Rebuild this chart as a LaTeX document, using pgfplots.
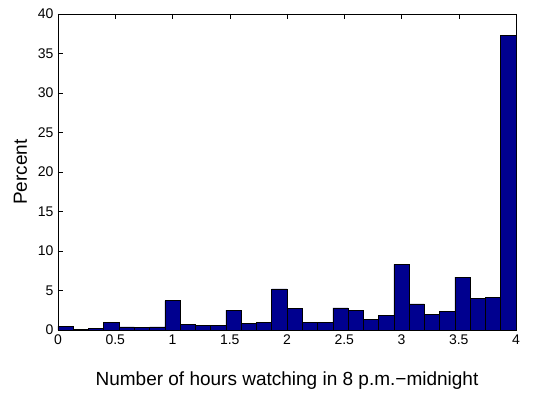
\documentclass[border=0pt]{standalone}
\usepackage{fontspec}
\setmainfont{Liberation Sans}
\usepackage{pgfplots}
\pgfplotsset{compat=1.18}
\definecolor{barblue}{RGB}{0,0,143}

\begin{document}
\begin{tikzpicture}
\begin{axis}[
    name=main,
    scale only axis,
    width=458pt, height=316pt,
    xmin=0, xmax=4,
    ymin=0, ymax=40,
    xtick={0,0.5,...,4},
    ytick={0,5,...,40},
    xticklabels={0,0.5,1,1.5,2,2.5,3,3.5,4},
    tick align=inside,
    major tick length=5pt,
    tick style={black, line width=0.5pt},
    axis line style={line width=0.6pt},
    /pgf/number format/assume math mode=true,
    ticklabel style={font=\fontsize{14}{16}\selectfont},
    xlabel={Number of hours watching in 8 p.m.−midnight},
    ylabel={Percent},
    label style={font=\fontsize{19}{22}\selectfont},
    xlabel style={yshift=-20pt},
    ylabel style={yshift=4pt},
    xticklabel style={yshift=-1pt},
    yticklabel style={xshift=-1pt},
]
\addplot[ybar interval, fill=barblue, draw=black, line width=0.6pt] coordinates {
    (0.0000,0.5) (0.1333,0.1) (0.2667,0.2) (0.4000,1.0) (0.5333,0.4)
    (0.6667,0.35) (0.8000,0.4) (0.9333,3.7) (1.0667,0.7) (1.2000,0.55)
    (1.3333,0.6) (1.4667,2.5) (1.6000,0.8) (1.7333,1.0) (1.8667,5.2)
    (2.0000,2.7) (2.1333,1.0) (2.2667,1.0) (2.4000,2.8) (2.5333,2.5)
    (2.6667,1.3) (2.8000,1.8) (2.9333,8.3) (3.0667,3.3) (3.2000,2.0)
    (3.3333,2.4) (3.4667,6.7) (3.6000,4.0) (3.7333,4.1) (3.8667,37.3)
    (4.0000,37.3)
};
\end{axis}
\path (main.south west) ++(-58pt,-75pt) coordinate (bbl);
\path (main.north east) ++(38pt,14pt) coordinate (btr);
\path (bbl) rectangle (btr);
\end{tikzpicture}
\end{document}
